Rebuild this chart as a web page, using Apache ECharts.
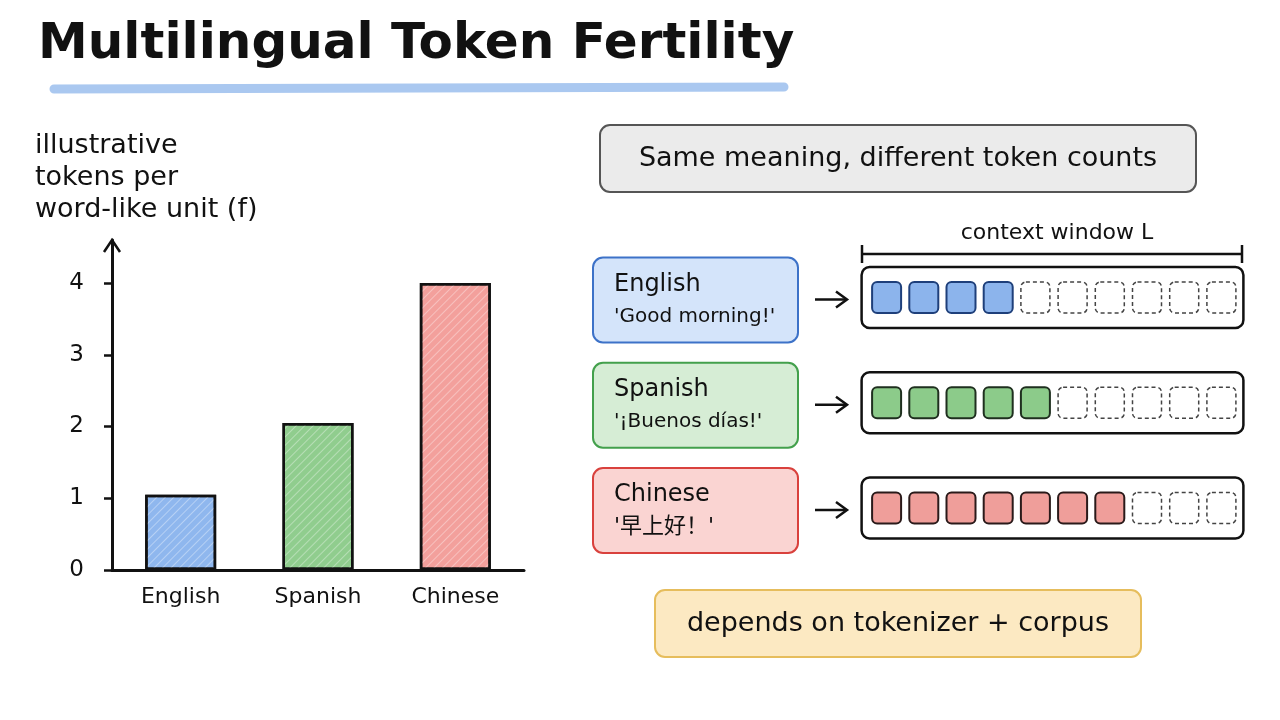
<!DOCTYPE html>
<html>
<head>
<meta charset="utf-8">
<script src="https://cdn.jsdelivr.net/npm/echarts@6/dist/echarts.min.js"></script>
<style>html,body{margin:0;padding:0;background:#fff;}#chart{width:1280px;height:720px;}</style>
</head>
<body>
<div id="chart"></div>
<script>
// ---- data ----
const languages = ['English', 'Spanish', 'Chinese'];
const fertility = [1.05, 2.05, 4.0];
const yTicks = [0, 1, 2, 3, 4];
const phrases = ["'Good morning!'", "'¡Buenos días!'", "'早上好！'"];
const tokenCounts = [4, 5, 7];
const windowSlots = ['1', '2', '3', '4', '5', '6', '7', '8', '9', '10'];
const titleText = 'Multilingual Token Fertility';
const yAxisTitle = ['illustrative', 'tokens per', 'word-like unit (f)'];
const headerText = 'Same meaning, different token counts';
const windowLabel = 'context window L';
const footerText = 'depends on tokenizer + corpus';

// ---- styles ----
const FONT = '"DejaVu Sans", "Noto Sans CJK SC", sans-serif';
const barColors = ['#8fb7ee', '#90cd8e', '#f3a09c'];
const boxFill = ['#d4e4fa', '#d6edd5', '#fad4d2'];
const boxStroke = ['#3d72c8', '#43a04c', '#d9413d'];
const cellFill = ['#8cb4ec', '#8ccb8a', '#ef9e9a'];
const cellStroke = ['#1e3f7a', '#1f2f1f', '#2a1a1a'];
const phraseSize = [20, 20, 22];

const cellData = [];
languages.forEach((lang, r) => {
  windowSlots.forEach((s, i) => {
    cellData.push([i, r, i < tokenCounts[r] ? 1 : 0]);
  });
});
const rowData = languages.map((l, r) => [0, r]);

const chart = echarts.init(document.getElementById('chart'), null, {renderer: 'canvas'});

const graphics = [];
// title + underline
graphics.push({type: 'line', shape: {x1: 54, y1: 89, x2: 784, y2: 87},
  style: {stroke: '#aac8f0', lineWidth: 9, lineCap: 'round'}, z: 1});
graphics.push({type: 'text', left: 38, top: 20, z: 2,
  style: {text: titleText, font: 'bold 50px ' + FONT, fill: '#111'}});
// y axis title
graphics.push({type: 'text', left: 35, top: 130,
  style: {text: yAxisTitle.join('\n'), font: '27px ' + FONT, fill: '#111', lineHeight: 32}});
// header box
graphics.push({type: 'rect', shape: {x: 600, y: 125, width: 596, height: 67, r: 10},
  style: {fill: '#ebebeb', stroke: '#555', lineWidth: 2}});
graphics.push({type: 'text', x: 898, y: 159,
  style: {text: headerText, font: '27px ' + FONT, fill: '#111', align: 'center', verticalAlign: 'middle'}});
// context window bracket
graphics.push({type: 'text', x: 1057, y: 233,
  style: {text: windowLabel, font: '22px ' + FONT, fill: '#111', align: 'center', verticalAlign: 'middle'}});
graphics.push({type: 'polyline', shape: {points: [[862, 245], [862, 263]]}, style: {stroke: '#111', lineWidth: 2.5}});
graphics.push({type: 'polyline', shape: {points: [[1242, 245], [1242, 263]]}, style: {stroke: '#111', lineWidth: 2.5}});
graphics.push({type: 'line', shape: {x1: 862, y1: 254, x2: 1242, y2: 254}, style: {stroke: '#111', lineWidth: 2.5}});
// language boxes and arrows
const rowCenters = [297.5, 402.75, 508];
languages.forEach((lang, r) => {
  const cy = rowCenters[r];
  graphics.push({type: 'rect', shape: {x: 593, y: cy - 40, width: 205, height: 85, r: 10},
    style: {fill: boxFill[r], stroke: boxStroke[r], lineWidth: 2}});
  graphics.push({type: 'text', x: 614, y: cy - 13,
    style: {text: lang, font: '24px ' + FONT, fill: '#111', verticalAlign: 'middle'}});
  graphics.push({type: 'text', x: 614, y: cy + 19,
    style: {text: phrases[r], font: phraseSize[r] + 'px ' + FONT, fill: '#111', verticalAlign: 'middle'}});
  graphics.push({type: 'line', shape: {x1: 815, y1: cy + 2, x2: 846, y2: cy + 2}, style: {stroke: '#111', lineWidth: 2.5}});
  graphics.push({type: 'polyline', shape: {points: [[836, cy - 6], [847, cy + 2], [836, cy + 10]]},
    style: {stroke: '#111', lineWidth: 2.5, fill: null}});
});
// footer box
graphics.push({type: 'rect', shape: {x: 655, y: 590, width: 486, height: 67, r: 10},
  style: {fill: '#fce9c2', stroke: '#e6bd5c', lineWidth: 2}});
graphics.push({type: 'text', x: 898, y: 624,
  style: {text: footerText, font: '27px ' + FONT, fill: '#111', align: 'center', verticalAlign: 'middle'}});
// y-axis arrow head
graphics.push({type: 'polyline', shape: {points: [[104, 252], [112, 240], [120, 252]]},
  style: {stroke: '#111', lineWidth: 2.5, fill: null}, z: 10});

const option = {
  backgroundColor: '#ffffff',
  animation: false,
  textStyle: {fontFamily: FONT},
  grid: [
    {left: 112, right: 756, top: 240, bottom: 150},
    {left: 868, right: 40, top: 244.9, bottom: 159.35}
  ],
  xAxis: [
    {type: 'category', gridIndex: 0, data: languages,
      axisLine: {lineStyle: {color: '#111', width: 3}},
      axisTick: {alignWithLabel: true, length: 4, lineStyle: {color: '#111', width: 1.5}},
      axisLabel: {fontSize: 22, color: '#111', margin: 16, fontFamily: FONT}},
    {type: 'category', gridIndex: 1, data: windowSlots, show: false}
  ],
  yAxis: [
    {type: 'value', gridIndex: 0, min: 0, max: 4.6, interval: 1,
      axisLine: {show: true, lineStyle: {color: '#111', width: 3}},
      axisTick: {show: true, length: 8, customValues: yTicks, lineStyle: {color: '#111', width: 2.5}},
      axisLabel: {fontSize: 23, color: '#111', margin: 28, customValues: yTicks, fontFamily: FONT},
      splitLine: {show: false}},
    {type: 'category', gridIndex: 1, data: languages, inverse: true, show: false}
  ],
  series: [
    {type: 'bar', xAxisIndex: 0, yAxisIndex: 0, barWidth: 71,
      data: fertility.map((v, i) => ({value: v, itemStyle: {color: barColors[i]}})),
      itemStyle: {borderColor: '#111', borderWidth: 2.5,
        decal: {symbol: 'rect', symbolSize: 1, dashArrayX: [[1, 0]], dashArrayY: [1, 5],
          rotation: -Math.PI / 4, color: 'rgba(255,255,255,0.35)'}}},
    {type: 'custom', xAxisIndex: 1, yAxisIndex: 1, data: rowData, z: 2,
      renderItem: function (params, api) {
        const r = api.value(1);
        const a = api.coord([0, r]);
        const b = api.coord([windowSlots.length - 1, r]);
        return {type: 'rect', shape: {x: a[0] - 25, y: a[1] - 30.5, width: b[0] - a[0] + 47, height: 61, r: 8},
          style: {fill: '#fff', stroke: '#111', lineWidth: 2.5}};
      }},
    {type: 'custom', xAxisIndex: 1, yAxisIndex: 1, data: cellData, z: 3,
      renderItem: function (params, api) {
        const r = api.value(1);
        const filled = api.value(2) === 1;
        const c = api.coord([api.value(0), r]);
        return {type: 'rect', shape: {x: c[0] - 14.5, y: c[1] - 15.5, width: 29, height: 31, r: 5},
          style: filled ? {fill: cellFill[r], stroke: cellStroke[r], lineWidth: 2}
                        : {fill: null, stroke: '#444', lineWidth: 1.5, lineDash: [4, 3]}};
      }}
  ],
  graphic: graphics
};
chart.setOption(option);
</script>
</body>
</html>
